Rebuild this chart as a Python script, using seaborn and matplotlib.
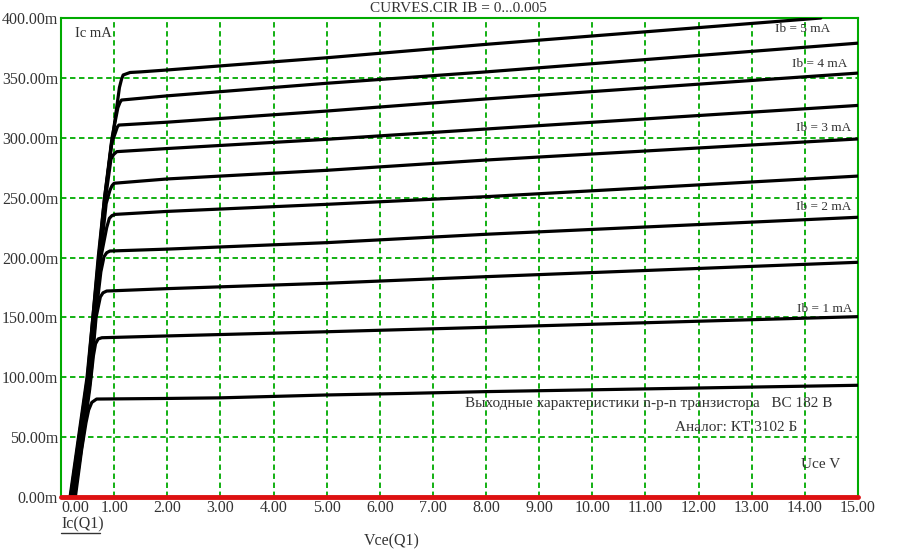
import matplotlib
matplotlib.use("Agg")
import matplotlib.pyplot as plt
import seaborn as sns
from matplotlib.lines import Line2D

# Ib = 0.5 ... 5 mA, Ic in mA vs Vce in V
vce_05 = [0.27, 0.39, 0.47, 0.52, 0.58, 0.67, 2.0, 3.0, 5.0, 6.5, 8.0, 15.0]
ic_05 = [0, 40, 62, 72.6, 79, 81.8, 82.3, 82.8, 85.2, 86.5, 88, 93.3]
vce_10 = [0.25, 0.40, 0.54, 0.61, 0.65, 0.70, 0.77, 2.0, 5.0, 8.0, 15.0]
ic_10 = [0, 45, 90, 118, 128, 132, 133, 134.5, 138, 141.7, 150.6]
vce_15 = [0.24, 0.40, 0.56, 0.66, 0.74, 0.79, 0.86, 2.0, 5.0, 8.0, 15.0]
ic_15 = [0, 50, 100, 150, 167, 170.5, 172, 174, 178.5, 184, 196]
vce_20 = [0.23, 0.39, 0.55, 0.65, 0.75, 0.81, 0.86, 0.92, 2.0, 5.0, 8.0, 15.0]
ic_20 = [0, 50, 100, 150, 188, 200.7, 204, 205.4, 207, 212.4, 219.4, 233.6]
vce_25 = [0.22, 0.38, 0.54, 0.64, 0.75, 0.86, 0.91, 0.96, 1.02, 2.0, 5.0, 8.0, 15.0]
ic_25 = [0, 50, 100, 150, 200, 225, 232.7, 235, 236, 238.5, 244.4, 250.8, 268]
vce_30 = [0.21, 0.37, 0.53, 0.63, 0.74, 0.85, 0.92, 0.96, 1.0, 2.0, 5.0, 8.0, 15.0]
ic_30 = [0, 50, 100, 150, 200, 245, 256, 260, 262, 265.6, 272.8, 281.4, 299]
vce_35 = [0.20, 0.36, 0.52, 0.62, 0.73, 0.84, 0.94, 0.99, 1.05, 2.0, 5.0, 8.0, 15.0]
ic_35 = [0, 50, 100, 150, 200, 250, 282, 286, 288.4, 291, 298.7, 307.3, 327]
vce_40 = [0.19, 0.35, 0.51, 0.61, 0.72, 0.83, 0.95, 1.03, 1.06, 1.09, 2.0, 5.0, 8.0, 15.0]
ic_40 = [0, 50, 100, 150, 200, 250, 295, 305, 309, 310.6, 313, 322.3, 332.4, 354]
vce_45 = [0.18, 0.34, 0.50, 0.60, 0.71, 0.82, 0.96, 1.07, 1.11, 1.14, 2.0, 5.0, 8.0, 15.0]
ic_45 = [0, 50, 100, 150, 200, 250, 300, 325, 329.5, 331.5, 335, 345.5, 355, 379]
vce_50 = [0.17, 0.33, 0.49, 0.60, 0.70, 0.82, 0.97, 1.10, 1.14, 1.17, 1.3, 1.5, 2.0, 5.0, 8.0, 14.3]
ic_50 = [0, 50, 100, 150, 200, 250, 300, 342, 349, 352.4, 354.5, 355, 356.6, 366.8, 378, 400]
vce_00 = [0.0, 15.0]
ic_00 = [0, 0]

curves = [(vce_05, ic_05), (vce_10, ic_10), (vce_15, ic_15), (vce_20, ic_20),
          (vce_25, ic_25), (vce_30, ic_30), (vce_35, ic_35), (vce_40, ic_40),
          (vce_45, ic_45), (vce_50, ic_50)]

x_ticks = [0, 1, 2, 3, 4, 5, 6, 7, 8, 9, 10, 11, 12, 13, 14, 15]
y_ticks = [0, 50, 100, 150, 200, 250, 300, 350, 400]

# labels at the right side: (text, Vce of left edge, Ic)
ib_labels = [("Ib = 5 mA", 13.44, 390.5),
             ("Ib = 4 mA", 13.76, 361.5),
             ("Ib = 3 mA", 13.84, 308),
             ("Ib = 2 mA", 13.83, 242),
             ("Ib = 1 mA", 13.86, 157)]

sns.set_theme(style="white")
plt.rcParams['font.family'] = ['Liberation Serif', 'DejaVu Serif']
text_col = "#333333"
grid_col = "#00aa00"

fig = plt.figure(figsize=(8.99, 5.56), dpi=100)
ax = fig.add_axes([61 / 899, 59 / 556, 797 / 899, 479 / 556])

for v, i in curves:
    sns.lineplot(x=v, y=i, ax=ax, color="black", lw=2.3, sort=False, zorder=3)
sns.lineplot(x=vce_00, y=ic_00, ax=ax, color="#dd1111", lw=3.5, sort=False,
             zorder=4, clip_on=False)

ax.set_xlim(0, 15)
ax.set_ylim(0, 400)
ax.set_xticks(x_ticks)
ax.set_yticks(y_ticks)
ax.set_xticklabels([f"{t:.2f}" for t in x_ticks])
ax.set_yticklabels([f"{t:.2f}m" for t in y_ticks])
ax.get_xticklabels()[0].set_horizontalalignment("left")
ax.tick_params(axis="both", length=0, labelsize=11.5, colors=text_col, pad=2)
ax.grid(True, color=grid_col, linestyle=(0, (3, 2)), lw=1.3)
for s in ax.spines.values():
    s.set_color(grid_col)
    s.set_linewidth(1.5)
ax.set_xlabel("")
ax.set_ylabel("")

ax.text(0.27, 387, "Ic mA", fontsize=10.5, color=text_col, va="center")
for t, x, y in ib_labels:
    ax.text(x, y, t, fontsize=9.5, color=text_col, va="center")
ax.text(7.6, 78, "Выходные характеристики n-p-n транзистора   BC 182 B",
        fontsize=11, color=text_col, va="center")
ax.text(11.56, 58, "Аналог: КТ 3102 Б", fontsize=11, color=text_col, va="center")
ax.text(13.93, 27.5, "Uce V", fontsize=11, color=text_col, va="center")

fig.text(458 / 899, 1 - 9 / 556, "CURVES.CIR IB = 0...0.005", fontsize=11,
         color=text_col, ha="center", va="center")
fig.text(61 / 899, 1 - 524 / 556, "Ic(Q1)", fontsize=11.5, color=text_col,
         ha="left", va="center")
fig.lines.append(Line2D([61 / 899, 100 / 899], [1 - 533 / 556, 1 - 533 / 556],
                        transform=fig.transFigure, color=text_col, lw=1))
fig.text(392 / 899, 1 - 541 / 556, "Vce(Q1)", fontsize=11.5, color=text_col,
         ha="center", va="center")

fig.savefig("out.png", dpi=100, facecolor="white")
